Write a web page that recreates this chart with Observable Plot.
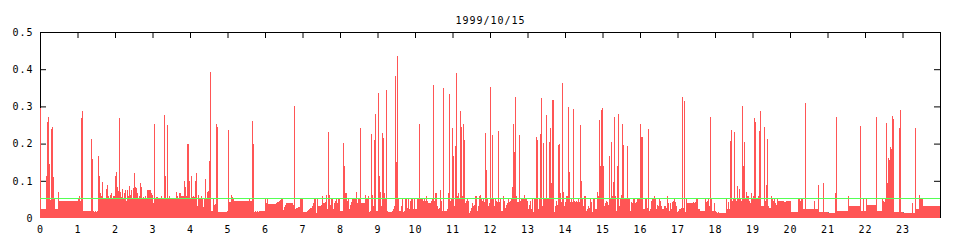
<!DOCTYPE html>
<html><head><meta charset="utf-8">
<script src="https://cdn.jsdelivr.net/npm/d3@7"></script>
<script src="https://cdn.jsdelivr.net/npm/@observablehq/plot@0.6"></script>
<style>body{margin:0;background:#fff}</style>
</head><body><div id="chart"></div>
<script>
const title = "1999/10/15";
const SAMPLE_MINUTES = 1.6;           // one sample every 1.6 minutes (900 per day)
const threshold = 0.053;
const xTicks = [0,1,2,3,4,5,6,7,8,9,10,11,12,13,14,15,16,17,18,19,20,21,22,23];
const yTicks = [0,0.1,0.2,0.3,0.4,0.5];
const yTickLabels = ["0","0.1","0.2","0.3","0.4","0.5"];
// [sample index where the level starts, value]
const levels = [
[0,.295],[1,.025],[6,.112],[7,.258],[8,.271],[9,.145],[10,.048],[11,.239],[12,.244],[13,.109],[14,.052],[15,.023],[18,.071],[19,.047],[38,.052],[39,.058],[40,.045],[41,.268],[42,.287],[43,.02],
[51,.212],[52,.158],[53,.02],[54,.017],[55,.02],[56,.017],[57,.02],[58,.168],[59,.112],[60,.066],[61,.06],[62,.098],[63,.053],[64,.052],[65,.05],[66,.077],[67,.09],[68,.06],[69,.053],[70,.061],
[71,.068],[72,.055],[73,.06],[74,.058],[75,.114],[76,.125],[77,.082],[78,.073],[79,.268],[80,.07],[81,.057],[82,.079],[83,.055],[84,.067],[85,.075],[86,.045],[87,.075],[88,.06],[89,.087],[90,.062],
[91,.075],[92,.05],[93,.08],[94,.12],[95,.082],[96,.08],[97,.066],[98,.052],[99,.058],[100,.093],[101,.082],[102,.05],[103,.057],[104,.05],[105,.06],[106,.05],[107,.074],[111,.068],[112,.062],[113,.04],
[114,.252],[115,.05],[116,.057],[118,.05],[120,.055],[121,.058],[122,.05],[124,.277],[125,.114],[126,.05],[127,.25],[128,.055],[129,.06],[130,.052],[133,.055],[136,.07],[137,.06],[138,.052],[139,.068],[141,.058],
[144,.1],[145,.082],[146,.058],[147,.2],[148,.198],[149,.1],[150,.055],[151,.114],[152,.057],[153,.06],[154,.057],[155,.1],[156,.12],[157,.032],[158,.063],[159,.052],[160,.055],[161,.058],[162,.055],[163,.03],
[164,.052],[165,.104],[166,.052],[167,.07],[168,.073],[169,.152],[170,.393],[171,.02],[173,.055],[174,.035],[175,.038],[176,.252],[177,.244],[178,.017],[187,.02],[188,.236],[189,.042],[191,.063],[192,.056],[193,.05],
[194,.047],[209,.052],[210,.047],[212,.26],[213,.198],[214,.016],[215,.018],[216,.015],[217,.018],[218,.015],[219,.018],[225,.055],[226,.04],[227,.052],[228,.038],[236,.04],[237,.042],[238,.044],[239,.046],[240,.048],
[241,.05],[242,.052],[243,.022],[244,.03],[245,.035],[246,.04],[253,.035],[254,.3],[255,.025],[256,.027],[258,.03],[260,.05],[263,.015],[267,.018],[268,.021],[269,.025],[270,.028],[272,.033],[273,.041],[274,.05],
[276,.014],[277,.055],[278,.031],[280,.033],[281,.036],[282,.058],[283,.039],[284,.041],[285,.044],[286,.063],[287,.023],[288,.231],[289,.063],[290,.036],[291,.05],[292,.052],[293,.025],[294,.041],[295,.047],[296,.055],
[297,.039],[298,.05],[299,.052],[300,.02],[303,.201],[304,.139],[305,.068],[307,.047],[308,.052],[309,.025],[310,.036],[311,.044],[312,.052],[313,.05],[315,.052],[316,.071],[317,.039],[318,.055],[320,.241],[321,.039],
[323,.041],[324,.039],[325,.063],[326,.055],[328,.06],[329,.017],[330,.02],[331,.225],[332,.063],[333,.033],[334,.209],[335,.279],[336,.02],[338,.336],[339,.112],[340,.071],[341,.033],[342,.228],[343,.214],[344,.068],
[345,.05],[346,.344],[347,.02],[348,.017],[352,.02],[353,.025],[354,.031],[355,.382],[356,.15],[357,.436],[358,.052],[359,.02],[361,.033],[362,.052],[363,.017],[364,.02],[365,.052],[367,.028],[368,.05],[369,.025],
[370,.047],[371,.055],[372,.052],[373,.025],[374,.052],[375,.023],[377,.055],[378,.052],[379,.252],[380,.05],[381,.055],[382,.05],[383,.047],[384,.052],[385,.047],[386,.06],[387,.047],[388,.041],[391,.047],[392,.052],
[393,.358],[394,.047],[395,.068],[396,.066],[397,.031],[398,.025],[399,.028],[400,.074],[401,.047],[402,.02],[403,.35],[404,.02],[407,.023],[408,.066],[409,.333],[410,.047],[411,.052],[412,.241],[413,.168],[414,.031],
[415,.193],[416,.39],[417,.06],[418,.068],[419,.055],[420,.287],[421,.244],[422,.06],[423,.252],[424,.209],[425,.041],[426,.047],[427,.052],[428,.047],[429,.014],[430,.02],[431,.028],[432,.041],[433,.033],[434,.036],
[435,.058],[436,.06],[437,.02],[438,.031],[439,.058],[440,.063],[441,.05],[442,.047],[443,.055],[444,.044],[445,.228],[446,.128],[447,.055],[448,.031],[449,.039],[450,.352],[451,.055],[452,.223],[453,.052],[454,.031],
[455,.052],[456,.047],[457,.044],[458,.233],[459,.044],[460,.052],[461,.02],[463,.06],[464,.047],[465,.028],[466,.036],[467,.041],[468,.052],[469,.044],[470,.047],[471,.052],[472,.082],[473,.252],[474,.177],[475,.325],
[476,.058],[477,.044],[479,.223],[480,.047],[481,.05],[482,.055],[483,.05],[484,.063],[485,.052],[487,.047],[488,.023],[489,.036],[490,.047],[491,.025],[492,.05],[493,.017],[494,.05],[496,.217],[497,.209],[498,.025],
[499,.05],[500,.225],[501,.323],[502,.033],[503,.201],[504,.052],[505,.055],[506,.277],[507,.055],[508,.052],[509,.204],[510,.241],[511,.093],[512,.317],[514,.017],[515,.033],[516,.047],[517,.036],[518,.196],[519,.198],
[520,.068],[521,.044],[522,.363],[523,.071],[524,.031],[525,.044],[526,.058],[528,.298],[529,.125],[530,.044],[531,.052],[532,.044],[533,.293],[534,.047],[535,.044],[536,.047],[537,.044],[538,.052],[539,.044],[540,.25],
[541,.1],[542,.055],[543,.031],[544,.058],[545,.06],[546,.02],[547,.023],[548,.031],[549,.028],[550,.055],[551,.044],[552,.017],[553,.055],[555,.023],[556,.025],[557,.071],[558,.058],[559,.263],[560,.139],[561,.29],
[562,.295],[563,.139],[564,.033],[565,.041],[566,.047],[567,.044],[568,.036],[569,.166],[570,.055],[571,.204],[572,.058],[573,.098],[574,.271],[575,.06],[576,.02],[577,.141],[578,.279],[579,.033],[580,.055],[581,.063],
[582,.252],[583,.196],[584,.05],[585,.055],[586,.052],[587,.193],[588,.055],[589,.052],[590,.02],[591,.044],[592,.039],[593,.05],[595,.041],[596,.044],[597,.052],[600,.252],[601,.217],[603,.023],[604,.025],[605,.055],
[606,.05],[607,.028],[608,.239],[609,.02],[610,.023],[611,.047],[612,.052],[613,.055],[614,.058],[615,.052],[616,.025],[617,.036],[618,.033],[619,.05],[620,.047],[621,.033],[622,.025],[624,.031],[625,.033],[626,.028],
[627,.06],[628,.041],[629,.02],[630,.041],[631,.025],[632,.044],[633,.047],[634,.05],[635,.044],[636,.033],[637,.017],[638,.02],[639,.023],[640,.025],[641,.028],[642,.325],[643,.028],[644,.314],[645,.017],[646,.055],
[647,.041],[651,.039],[653,.044],[654,.039],[655,.044],[656,.052],[657,.055],[658,.025],[659,.023],[660,.02],[665,.052],[666,.044],[667,.047],[668,.055],[669,.033],[670,.271],[671,.052],[672,.02],[674,.041],[675,.02],
[676,.017],[677,.014],[678,.017],[679,.014],[686,.052],[687,.025],[688,.044],[689,.025],[690,.206],[691,.236],[692,.047],[693,.055],[694,.231],[695,.055],[696,.047],[697,.085],[698,.055],[699,.077],[700,.055],[701,.047],
[702,.301],[703,.141],[704,.204],[705,.052],[706,.071],[707,.058],[709,.047],[710,.041],[711,.068],[712,.052],[713,.058],[714,.268],[715,.258],[716,.055],[717,.052],[718,.06],[719,.233],[720,.287],[721,.031],[724,.244],
[725,.047],[726,.09],[727,.212],[728,.031],[729,.028],[731,.06],[732,.052],[733,.047],[734,.052],[735,.039],[736,.036],[737,.055],[738,.047],[744,.044],[746,.047],[751,.017],[758,.052],[760,.047],[761,.055],[763,.023],
[764,.025],[765,.309],[766,.023],[769,.025],[774,.047],[775,.025],[778,.09],[779,.017],[783,.095],[784,.017],[788,.014],[795,.068],[796,.271],[797,.02],[808,.058],[809,.031],[820,.247],[821,.02],[823,.05],[824,.02],
[826,.052],[827,.036],[836,.271],[837,.02],[842,.052],[843,.047],[844,.044],[845,.05],[846,.255],[847,.095],[848,.16],[849,.155],[850,.19],[851,.185],[852,.274],[853,.266],[854,.017],[859,.241],[860,.29],[861,.017],
[863,.014],[872,.041],[873,.014],[875,.241],[876,.023],[879,.063],[880,.052],[883,.031]
];

const pts = levels.map(([s, v]) => ({hour: s * SAMPLE_MINUTES / 60, value: v}));
pts.push({hour: 24, value: levels[levels.length - 1][1]});

const W = 960, H = 240, mL = 40, mR = 20, mT = 32, mB = 22;
const frameW = W - mL - mR, frameH = H - mT - mB, tickLen = 6;
const inner = yTicks.filter(d => d > 0);

const chart = Plot.plot({
  width: W, height: H,
  marginLeft: mL, marginRight: mR, marginTop: mT, marginBottom: mB,
  x: {domain: [0, 24], label: null},
  y: {domain: [0, 0.5], label: null},
  style: "font-family: 'DejaVu Sans Mono', monospace; font-size: 10px; letter-spacing: 1px; color: black; background: white;",
  marks: [
    Plot.ruleX(xTicks, {insetBottom: frameH - tickLen, stroke: "black"}),
    Plot.ruleX(xTicks, {insetTop: frameH - tickLen, stroke: "black"}),
    Plot.ruleY(inner, {insetRight: frameW - tickLen, stroke: "black"}),
    Plot.ruleY(inner, {insetLeft: frameW - tickLen, stroke: "black"}),
    Plot.ruleX([0, 24], {stroke: "black"}),
    Plot.ruleY([0.5], {stroke: "black"}),
    Plot.areaY(pts, {x: "hour", y: "value", curve: "step-after", fill: "#ff5555", shapeRendering: "crispEdges"}),
    Plot.ruleY([threshold], {stroke: "#55ff55", shapeRendering: "crispEdges"}),
    Plot.axisX({ticks: xTicks, tickSize: 0, tickPadding: 7, label: null, tickFormat: d => String(d), fill: "black"}),
    Plot.axisY({ticks: yTicks, tickSize: 0, tickPadding: 7, label: null, tickFormat: d => yTickLabels[yTicks.indexOf(d)], fill: "black"}),
    Plot.text([title], {frameAnchor: "top", dy: -16, text: d => d, fill: "black"})
  ]
});
document.getElementById("chart").appendChild(chart);
</script>
</body></html>
